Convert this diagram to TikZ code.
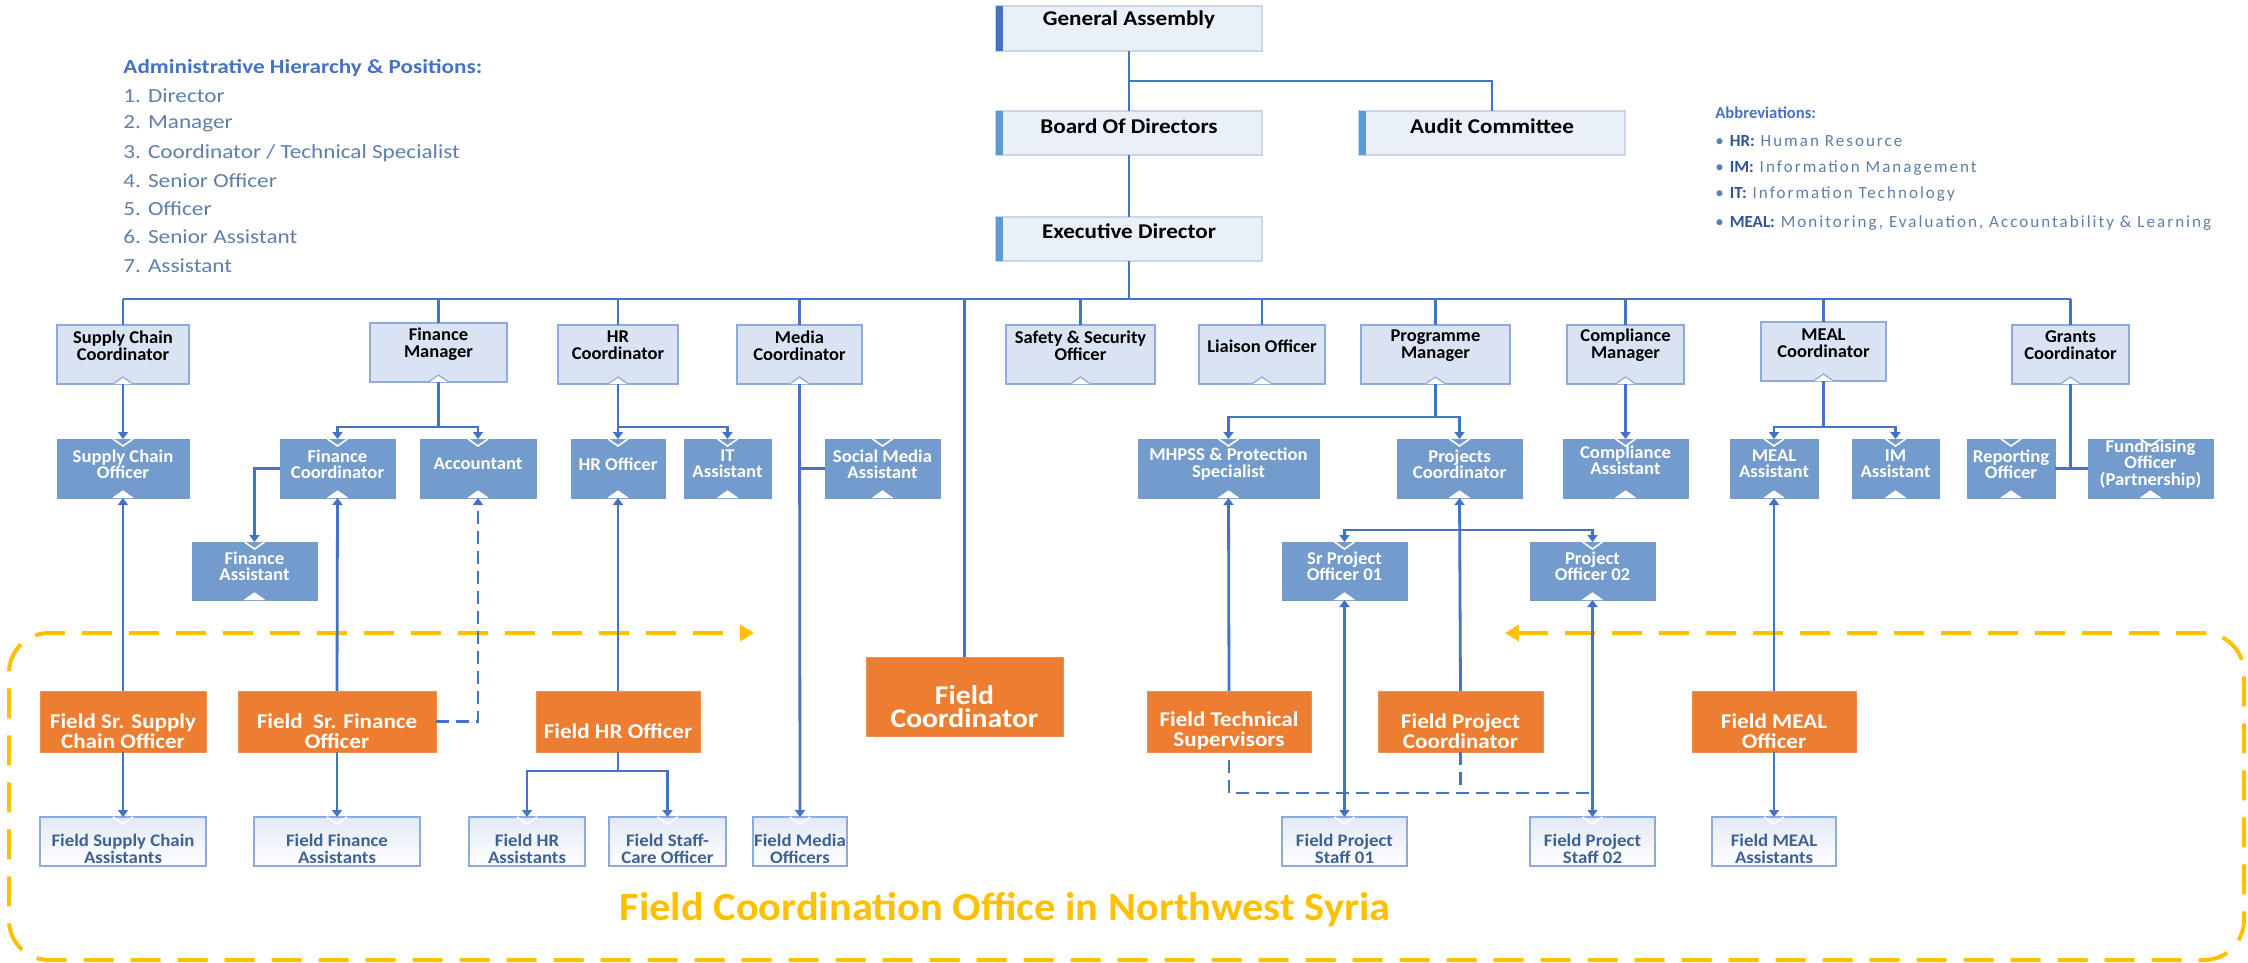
\documentclass[tikz,border=0pt]{standalone}
\usepackage{fontspec}
\setmainfont{Carlito}
\newfontfamily\spacedfont[LetterSpace=12]{Carlito}
\usetikzlibrary{arrows.meta,calc}
\definecolor{lnblue}{HTML}{4472C4}
\definecolor{hqfill}{HTML}{EAF0F8}
\definecolor{hqborder}{HTML}{C9D6EA}
\definecolor{accdark}{HTML}{4472C4}
\definecolor{acclight}{HTML}{5B9BD5}
\definecolor{ltfill}{HTML}{DAE3F3}
\definecolor{ltborder}{HTML}{8FAADC}
\definecolor{dkfill}{HTML}{739BCB}
\definecolor{orfill}{HTML}{ED7D31}
\definecolor{gold}{HTML}{FFC000}
\definecolor{bottxt}{HTML}{3E6295}
\definecolor{legblue}{HTML}{4472C4}
\definecolor{abblue}{HTML}{2F5597}
\definecolor{leggray}{HTML}{5E7EAE}
\definecolor{botshade}{HTML}{E2E9F5}
\newcommand\obox[8]{%
  \node[#2, minimum width={(#5-#3)*0.5pt}, minimum height={(#6-#4)*0.5pt}] (#1) at ({(#3+#5)/2},{(#4+#6)/2}) {};
  \node[#2txt] (#1-t) at ({(#3+#5)/2},#7) {#8};}
\newcommand\nbot[2]{%
  \fill[white] ([xshift=-5pt]#1.south) -- ([yshift=3.5pt]#1.south) -- ([xshift=5pt]#1.south) -- cycle;
  \draw[#2, line width=0.6pt] ([xshift=-5pt]#1.south) -- ([yshift=3.5pt]#1.south) -- ([xshift=5pt]#1.south);}
\newcommand\ntop[1]{%
  \draw[white, line width=0.8pt] ([xshift=-5pt]#1.north) -- ([yshift=-3.5pt]#1.north) -- ([xshift=5pt]#1.north);}
\begin{document}
\begin{tikzpicture}[x=0.5pt,y=-0.5pt,
  hqbox/.style={rectangle, draw=hqborder, fill=hqfill, line width=0.6pt, inner sep=0pt, outer sep=0pt},
  hqboxtxt/.style={font=\bfseries\fontsize{10.5}{12}\selectfont, text=black, align=center, inner sep=0pt, xscale=1.1, transform shape},
  lvtwo/.style={rectangle, draw=ltborder, fill=ltfill, line width=0.7pt, inner sep=0pt, outer sep=0pt},
  lvtwotxt/.style={font=\bfseries\fontsize{9}{8.6}\selectfont, text=black, align=center, inner sep=0pt, xscale=1.03, transform shape},
  lvthree/.style={rectangle, fill=dkfill, draw=dkfill, line width=0.5pt, inner sep=0pt, outer sep=0pt},
  lvthreetxt/.style={font=\bfseries\fontsize{9}{8.2}\selectfont, text=white, align=center, inner sep=0pt, xscale=1.04, transform shape},
  fldbox/.style={rectangle, fill=orfill, draw=orfill!85!white, line width=0.5pt, inner sep=0pt, outer sep=0pt},
  fldboxtxt/.style={font=\bfseries\fontsize{10.5}{10}\selectfont, text=white, align=center, inner sep=0pt, xscale=1.1, transform shape},
  fcbox/.style={fldbox},
  fcboxtxt/.style={font=\bfseries\fontsize{13.5}{11.5}\selectfont, text=white, align=center, inner sep=0pt, xscale=1.1, transform shape},
  botbox/.style={rectangle, draw=ltborder, top color=botshade, bottom color=white, line width=0.6pt, inner sep=0pt, outer sep=0pt},
  botboxtxt/.style={font=\bfseries\fontsize{8.8}{8.2}\selectfont, text=bottxt, align=center, inner sep=0pt, xscale=1.07, transform shape},
  conn/.style={draw=lnblue, line width=1.4pt},
  arr/.style={-{Triangle[width=5pt,length=3.5pt]}},
  dsh/.style={dash pattern=on 6.5pt off 3.5pt},
  legh/.style={anchor=west, inner sep=0pt, text=legblue, font=\bfseries\fontsize{10}{11}\selectfont, xscale=1.16, transform shape},
  legi/.style={anchor=west, inner sep=0pt, text=leggray, font=\fontsize{10}{11}\selectfont, xscale=1.16, transform shape},
  abh/.style={anchor=west, inner sep=0pt, text=legblue, font=\bfseries\fontsize{8.3}{10}\selectfont},
  abi/.style={anchor=west, inner sep=0pt, text=leggray, font=\spacedfont\fontsize{8.5}{10}\selectfont}
]
\fill[white] (0,0) rectangle (2248,963);
\useasboundingbox (0,0) rectangle (2248,963);

% ---------------- field office frame ----------------
\draw[gold, line width=2pt, dash pattern=on 15pt off 8.5pt, rounded corners=20pt,
  {Triangle[width=8pt,length=7pt]}-{Triangle[width=8pt,length=7pt]}]
  (1505,633) -- (2244,633) -- (2244,960) -- (9,960) -- (9,633) -- (754,633);
\node[text=gold, font=\bfseries\fontsize{20}{22}\selectfont, inner sep=0pt, xscale=1.06, transform shape] (title) at (1005,910) {Field Coordination Office in Northwest Syria};

% ---------------- legends ----------------
\node[legh] (leg0) at (123,68) {Administrative Hierarchy \& Positions:};
\node[legi] (leg1) at (123,96) {1. Director};
\node[legi] (leg2) at (123,124) {2. Manager};
\node[legi] (leg3) at (123,153) {3. Coordinator / Technical Specialist};
\node[legi] (leg4) at (123,181) {4. Senior Officer};
\node[legi] (leg5) at (123,209) {5. Officer};
\node[legi] (leg6) at (123,237) {6. Senior Assistant};
\node[legi] (leg7) at (123,266) {7. Assistant};

\node[abh] (ab0) at (1715,113) {Abbreviations:};
\node[abi] (ab1) at (1715,141) {\textbullet\ \textcolor{abblue}{\normalfont\bfseries HR:} Human Resource};
\node[abi] (ab2) at (1715,168) {\textbullet\ \textcolor{abblue}{\normalfont\bfseries IM:} Information Management};
\node[abi] (ab3) at (1715,194) {\textbullet\ \textcolor{abblue}{\normalfont\bfseries IT:} Information Technology};
\node[abi] (ab4) at (1715,223) {\textbullet\ \textcolor{abblue}{\normalfont\bfseries MEAL:} Monitoring, Evaluation, Accountability \& Learning};

% ---------------- boxes ----------------
\obox{ga}{hqbox}{996}{6}{1262}{51}{20}{General Assembly}
\obox{bod}{hqbox}{996}{111}{1262}{155}{126}{Board Of Directors}
\obox{aud}{hqbox}{1359}{111}{1625}{155}{126}{Audit Committee}
\obox{ed}{hqbox}{996}{217}{1262}{261}{231}{Executive Director}
\fill[accdark] (ga.north west) rectangle ([xshift=3.5pt]ga.south west);
\fill[acclight] (bod.north west) rectangle ([xshift=3.5pt]bod.south west);
\fill[acclight] (aud.north west) rectangle ([xshift=3.5pt]aud.south west);
\fill[acclight] (ed.north west) rectangle ([xshift=3.5pt]ed.south west);

\obox{scc}{lvtwo}{57}{325}{189}{384}{345.5}{Supply Chain\\Coordinator}
\obox{fm}{lvtwo}{370}{323}{507}{382}{344}{Finance\\Manager}
\obox{hrc}{lvtwo}{558}{325}{678}{384}{345.5}{HR\\Coordinator}
\obox{mc}{lvtwo}{737}{325}{862}{384}{345.5}{Media\\Coordinator}
\obox{ss}{lvtwo}{1006}{325}{1155}{384}{345.5}{Safety \& Security\\Officer}
\obox{lo}{lvtwo}{1199}{325}{1325}{384}{346}{Liaison Officer}
\obox{pm}{lvtwo}{1361}{325}{1510}{384}{345.5}{Programme\\Manager}
\obox{cm}{lvtwo}{1567}{325}{1684}{384}{345.5}{Compliance\\Manager}
\obox{mealc}{lvtwo}{1761}{322}{1886}{381}{343}{MEAL\\Coordinator}
\obox{gc}{lvtwo}{2012}{325}{2129}{384}{345.5}{Grants\\Coordinator}

\obox{sco}{lvthree}{57}{439}{189}{498}{464}{Supply Chain\\Officer}
\obox{fco}{lvthree}{280}{439}{395}{498}{464}{Finance\\Coordinator}
\obox{acc}{lvthree}{420}{439}{536}{498}{464}{Accountant}
\obox{hro}{lvthree}{571}{439}{665}{498}{464}{HR Officer}
\obox{ita}{lvthree}{684}{439}{771}{498}{464}{IT\\Assistant}
\obox{sma}{lvthree}{825}{439}{940}{498}{464}{Social Media\\Assistant}
\obox{mhp}{lvthree}{1138}{439}{1319}{498}{464}{MHPSS \& Protection\\Specialist}
\obox{pc}{lvthree}{1397}{439}{1522}{498}{464}{Projects\\Coordinator}
\obox{ca}{lvthree}{1563}{439}{1688}{498}{460}{Compliance\\Assistant}
\obox{mea}{lvthree}{1730}{439}{1818}{498}{464}{MEAL\\Assistant}
\obox{ima}{lvthree}{1852}{439}{1939}{498}{464}{IM\\Assistant}
\obox{ro}{lvthree}{1967}{439}{2055}{498}{464}{Reporting\\Officer}
\obox{fo}{lvthree}{2088}{439}{2213}{498}{464}{Fundraising\\Officer\\(Partnership)}
\obox{fa}{lvthree}{192}{542}{317}{600}{566}{Finance\\Assistant}
\obox{spo}{lvthree}{1282}{542}{1407}{600}{566}{Sr Project\\Officer 01}
\obox{po}{lvthree}{1530}{542}{1655}{600}{566}{Project\\Officer 02}

\obox{fsco}{fldbox}{40}{691}{206}{752}{731}{Field Sr. Supply\\Chain Officer}
\obox{fsfo}{fldbox}{238}{691}{436}{752}{731}{Field~~Sr. Finance\\Officer}
\obox{fhro}{fldbox}{536}{691}{700}{752}{731}{Field HR Officer}
\obox{fc}{fcbox}{866}{657}{1063}{736}{707}{Field\\Coordinator}
\obox{fts}{fldbox}{1147}{691}{1311}{752}{731}{Field Technical\\Supervisors}
\obox{fpc}{fldbox}{1378}{691}{1543}{752}{731}{Field Project\\Coordinator}
\obox{fmo}{fldbox}{1692}{691}{1856}{752}{731}{Field MEAL\\Officer}

\obox{fsca}{botbox}{40}{817}{206}{866}{849}{Field Supply Chain\\Assistants}
\obox{ffa}{botbox}{254}{817}{420}{866}{849}{Field Finance\\Assistants}
\obox{fhra}{botbox}{469}{817}{585}{866}{849}{Field HR\\Assistants}
\obox{fstc}{botbox}{609}{817}{726}{866}{849}{Field Staff-\\Care Officer}
\obox{fmdo}{botbox}{753}{817}{847}{866}{849}{Field Media\\Officers}
\obox{fpsa}{botbox}{1282}{817}{1407}{866}{849}{Field Project\\Staff 01}
\obox{fpsb}{botbox}{1530}{817}{1655}{866}{849}{Field Project\\Staff 02}
\obox{fmea}{botbox}{1712}{817}{1836}{866}{849}{Field MEAL\\Assistants}

% notches
\foreach \n in {scc,fm,hrc,mc,ss,lo,pm,cm,mealc,gc}{\nbot{\n}{ltborder}}
\foreach \n in {sco,fco,acc,hro,ita,sma,mhp,pc,ca,mea,ima,ro,fo,fa,spo,po}{\nbot{\n}{white}\ntop{\n}}
\foreach \n in {fsca,ffa,fhra,fstc,fmdo,fpsa,fpsb,fmea}{\ntop{\n}}

% ---------------- connectors ----------------
\coordinate (bus) at (0,299);
\coordinate (fmb) at (0,427);
\coordinate (pmb) at (0,417);
\coordinate (pcb) at (0,530);
\coordinate (fdl) at (0,793);
\coordinate (hrb) at (0,771);

\draw[conn] (ga.south) -- (bod.north);
\draw[conn] ($(ga.south)!0.5!(bod.north)$) -| (aud.north);
\draw[conn] (bod.south) -- (ed.north);
\draw[conn] (ed.south) -- (ed.south |- bus);
\draw[conn] (scc.north |- bus) -- (gc.north |- bus);
\foreach \n in {scc,fm,hrc,mc,ss,lo,pm,cm,mealc,gc}{\draw[conn] (\n.north |- bus) -- (\n.north);}
\draw[conn] (fc.north |- bus) -- (fc.north);

\draw[conn,arr] (scc.south) -- (sco.north);
\draw[conn] (fm.south) -- (fm.south |- fmb);
\draw[conn,arr] (fm.south |- fmb) -| (fco.north);
\draw[conn,arr] (fm.south |- fmb) -| (acc.north);
\draw[conn,arr] (fco.west) -| (fa.north);
\draw[conn] (hrc.south) -- (hrc.south |- fmb);
\draw[conn,arr] (hrc.south |- fmb) -| (hro.north);
\draw[conn,arr] (hrc.south |- fmb) -| (ita.north);
\draw[conn,arr] (mc.south) -- (fmdo.north);
\draw[conn] (mc.south |- sma.west) -- (sma.west);
\draw[conn] (pm.south) -- (pm.south |- pmb);
\draw[conn,arr] (pm.south |- pmb) -| (mhp.north);
\draw[conn,arr] (pm.south |- pmb) -| (pc.north);
\draw[conn,arr] (pc.south |- pcb) -| (spo.north);
\draw[conn,arr] (pc.south |- pcb) -| (po.north);
\draw[conn,arr] (cm.south) -- (ca.north);
\draw[conn] (mealc.south) -- (mealc.south |- fmb);
\draw[conn,arr] (mealc.south |- fmb) -| (mea.north);
\draw[conn,arr] (mealc.south |- fmb) -| (ima.north);
\draw[conn] (gc.south) -- (gc.south |- ro.east);
\draw[conn] (ro.east) -- (fo.west);

\draw[conn,arr] (fsco.north) -- (sco.south);
\draw[conn,arr] (fsfo.north) -- (fco.south);
\draw[conn,arr,dsh] (fsfo.east) -| (acc.south);
\draw[conn,arr] (fhro.north) -- (hro.south);
\draw[conn,arr] (fts.north) -- (mhp.south);
\draw[conn,arr] (fpc.north) -- (pc.south);
\draw[conn,arr] (fmo.north) -- (mea.south);
\draw[conn,{Triangle[width=5pt,length=3.5pt]}-{Triangle[width=5pt,length=3.5pt]}] (spo.south) -- (fpsa.north);
\draw[conn,{Triangle[width=5pt,length=3.5pt]}-{Triangle[width=5pt,length=3.5pt]}] (po.south) -- (fpsb.north);
\draw[conn,dsh] ([yshift=-4pt]fts.south) |- (po.south |- fdl);
\draw[conn,dsh] (fpc.south) -- (fpc.south |- fdl);

\draw[conn,arr] (fsco.south) -- (fsca.north);
\draw[conn,arr] (fsfo.south) -- (ffa.north);
\draw[conn] (fhro.south) -- (fhro.south |- hrb);
\draw[conn,arr] (fhro.south |- hrb) -| (fhra.north);
\draw[conn,arr] (fhro.south |- hrb) -| (fstc.north);
\draw[conn,arr] (fmo.south) -- (fmea.north);
\end{tikzpicture}
\end{document}
